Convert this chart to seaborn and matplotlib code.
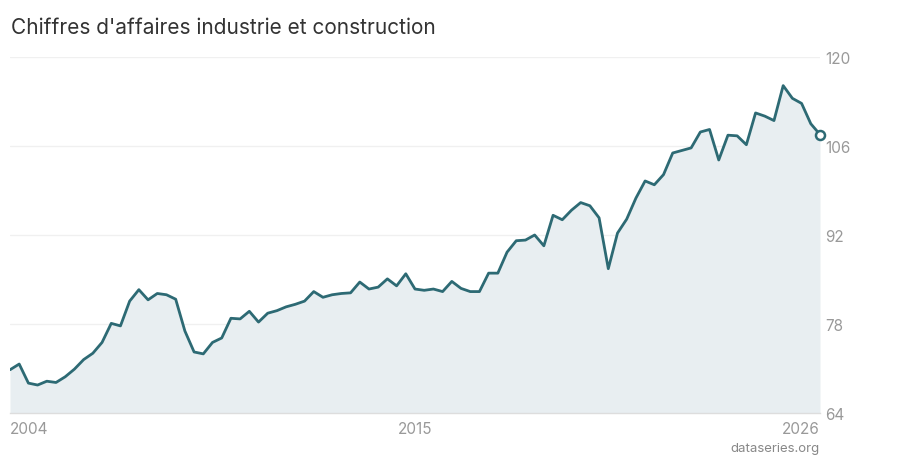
import matplotlib
matplotlib.use("Agg")
import matplotlib.pyplot as plt
import seaborn as sns
import pandas as pd
import numpy as np

# ---- data ----
start_year = 2004
values = [
    70.8, 71.7, 68.7, 68.4, 69.0, 68.8, 69.7, 70.9, 72.4, 73.4,
    75.1, 78.1, 77.7, 81.6, 83.4, 81.8, 82.8, 82.6, 81.9, 76.9,
    73.6, 73.3, 75.1, 75.8, 78.9, 78.8, 80.0, 78.3, 79.7, 80.1,
    80.7, 81.1, 81.6, 83.1, 82.2, 82.6, 82.8, 82.9, 84.6, 83.5,
    83.8, 85.1, 84.0, 85.9, 83.5, 83.3, 83.5, 83.1, 84.7, 83.6,
    83.1, 83.1, 86.0, 86.0, 89.3, 91.1, 91.2, 92.0, 90.3, 95.1,
    94.4, 95.9, 97.1, 96.6, 94.7, 86.7, 92.3, 94.5, 97.8, 100.5,
    99.9, 101.5, 104.9, 105.3, 105.7, 108.2, 108.6, 103.8, 107.7, 107.6,
    106.2, 111.2, 110.7, 110.0, 115.5, 113.5, 112.7, 109.5, 107.8,
]
x_ticks = [2004, 2015, 2026]
x_tick_labels = ["2004", "2015", "2026"]
y_ticks = [64, 78, 92, 106, 120]
title = "Chiffres d'affaires industrie et construction"
source = "dataseries.org"

years = [start_year + i / 4 for i in range(len(values))]
df = pd.DataFrame({"year": years, "value": values})

# ---- style ----
sns.set_theme(style="white")
plt.rcParams["font.family"] = ["Inter", "DejaVu Sans"]

line_color = "#2d6a74"
fill_color = "#e8eef1"

fig = plt.figure(figsize=(9, 4.6), dpi=100)
ax = fig.add_axes([10 / 900, 1 - 414 / 460, 810 / 900, (414 - 58) / 460])

ax.fill_between(df["year"], df["value"], 64, color=fill_color, lw=0, zorder=1)
sns.lineplot(data=df, x="year", y="value", ax=ax, color=line_color,
             linewidth=2.0, zorder=3)
ax.plot([df["year"].iloc[-1]], [df["value"].iloc[-1]], marker="o",
        markersize=6.5, markerfacecolor="white", markeredgecolor=line_color,
        markeredgewidth=1.8, zorder=4, clip_on=False)

ax.set_xlim(years[0], years[-1])
ax.set_ylim(64, 120)
ax.set_xlabel("")
ax.set_ylabel("")

for s in ["top", "left", "right"]:
    ax.spines[s].set_visible(False)
ax.spines["bottom"].set_color("#dddddd")
ax.spines["bottom"].set_linewidth(1.0)

for yv in y_ticks[1:]:
    ax.axhline(yv, color="#f0f0f0", lw=1.0, zorder=0)

ax.yaxis.tick_right()
ax.set_yticks(y_ticks)
ax.set_yticklabels([str(v) for v in y_ticks])
ax.tick_params(axis="y", length=0, pad=4, labelsize=11, labelcolor="#999999")

ax.set_xticks(x_ticks)
ax.set_xticklabels(x_tick_labels)
ax.tick_params(axis="x", length=0, pad=6, labelsize=11, labelcolor="#999999")
labels = ax.get_xticklabels()
labels[0].set_horizontalalignment("left")
labels[-1].set_horizontalalignment("right")

fig.text(11 / 900, 1 - 28 / 460, title, fontsize=15, color="#333333",
         ha="left", va="center")
fig.text(820 / 900, 1 - 449 / 460, source, fontsize=9.5, color="#888888",
         ha="right", va="center")

fig.savefig("out.png", dpi=100, facecolor="white")
